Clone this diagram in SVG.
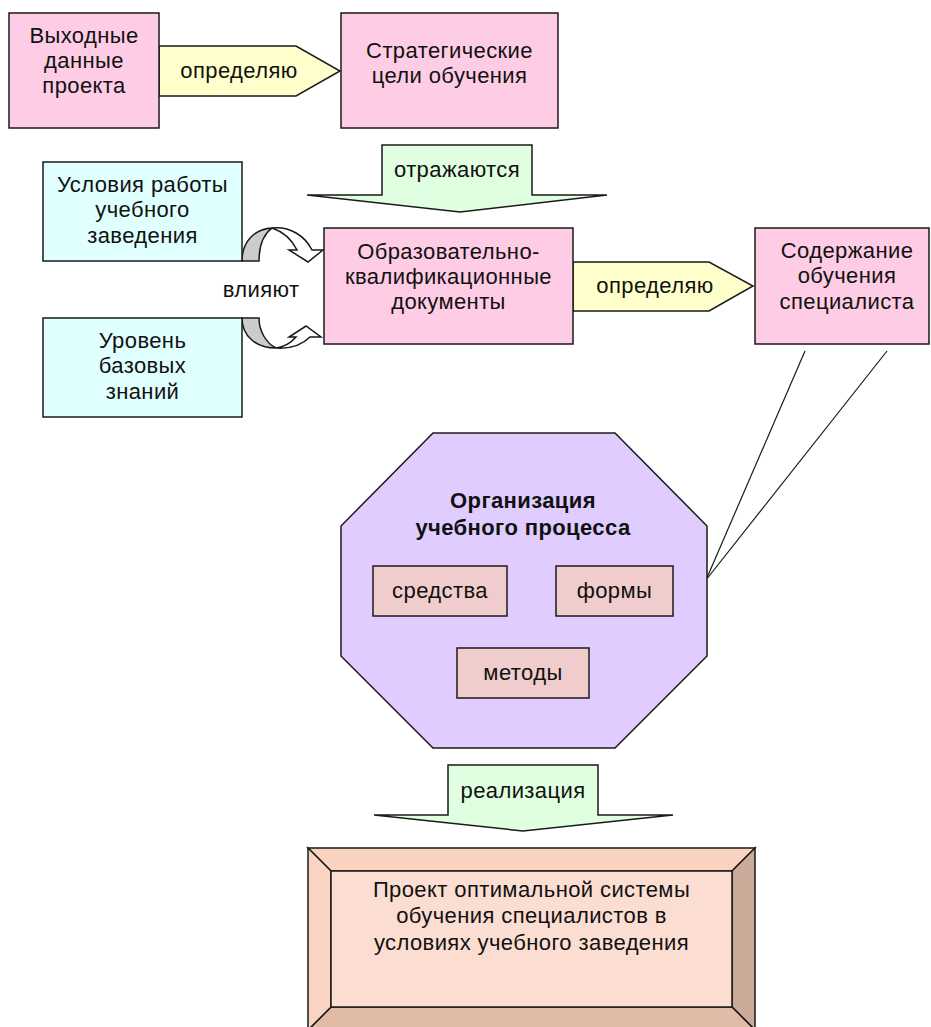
<svg xmlns="http://www.w3.org/2000/svg" width="931" height="1027" viewBox="0 0 931 1027">
<style>
.b{stroke:#1a1a1a;stroke-width:1.5;stroke-linejoin:miter}
.pink{fill:#FFCCE6}
.cyan{fill:#E0FFFF}
.yel{fill:#FFFFCC}
.grn{fill:#E0FFE0}
.t{font-family:"Liberation Sans",Arial,sans-serif;font-size:22px;letter-spacing:0.4px;fill:#111;text-anchor:middle}
.tb{font-weight:bold}
.ln{stroke:#1a1a1a;stroke-width:1.2;fill:none}
</style>
<rect width="931" height="1027" fill="#fff"/>

<g id="connectors">
  <g id="arrow-opredelyau-1">
    <polygon class="b yel" points="159,46 296,46 340,71 296,96 159,96"/>
    <text class="t" x="239" y="78">определяю</text>
  </g>
  <g id="arrow-otrazhayutsya">
    <polygon class="b grn" points="382,145 532,145 532,195 607,195 460,212 307,195 382,195"/>
    <text class="t" x="457" y="177">отражаются</text>
  </g>
  <g id="arrow-opredelyau-2">
    <polygon class="b yel" points="573,262 709,262 753,286 709,311 573,311"/>
    <text class="t" x="655" y="293">определяю</text>
  </g>
  <g id="curved-upper">
    <path class="b" fill="#fff" d="M272,228 C290,226 305,236 312,250 L323,250 L308,262 L289,250 L297,250 C292,240 284,232 272,228 Z"/>
    <path class="b" fill="#CCCCCC" d="M242,261 C242,242 254,229 272,228 C264,234 259,246 259,261 Z"/>
  </g>
  <g id="curved-lower">
    <path class="b" fill="#fff" d="M276,348 C291,349 303,344 310,337 L321,337 L306,326 L289,337 L296,337 C290,344 283,347 276,348 Z"/>
    <path class="b" fill="#CCCCCC" d="M242,318 C242,336 256,348 276,348 C266,343 259,331 259,318 Z"/>
  </g>
  <text class="t" x="261" y="297">влияют</text>
  <line class="ln" x1="805" y1="351" x2="706" y2="580"/>
  <line class="ln" x1="887" y1="351" x2="706" y2="580"/>
  <g id="arrow-realizaciya">
    <polygon class="b grn" points="448,765 598,765 598,815 673,815 523,831 374,815 448,815"/>
    <text class="t" x="523" y="798">реализация</text>
  </g>
</g>

<g id="node-vyhodnye">
  <rect class="b pink" x="9" y="13" width="150" height="115"/>
  <text class="t" x="84" y="43">Выходные</text>
  <text class="t" x="84" y="68">данные</text>
  <text class="t" x="84" y="93">проекта</text>
</g>

<g id="node-strategicheskie">
  <rect class="b pink" x="341" y="13" width="217" height="115"/>
  <text class="t" x="449.5" y="58">Стратегические</text>
  <text class="t" x="449.5" y="83">цели обучения</text>
</g>

<g id="node-usloviya">
  <rect class="b cyan" x="43" y="162" width="199" height="99"/>
  <text class="t" x="142.5" y="192">Условия работы</text>
  <text class="t" x="142.5" y="217">учебного</text>
  <text class="t" x="142.5" y="243">заведения</text>
</g>

<g id="node-uroven">
  <rect class="b cyan" x="43" y="318" width="199" height="99"/>
  <text class="t" x="142.5" y="348">Уровень</text>
  <text class="t" x="142.5" y="373">базовых</text>
  <text class="t" x="142.5" y="399">знаний</text>
</g>

<g id="node-dokumenty">
  <rect class="b pink" x="324" y="228" width="249" height="116"/>
  <text class="t" x="448.5" y="259">Образовательно-</text>
  <text class="t" x="448.5" y="284">квалификационные</text>
  <text class="t" x="448.5" y="309">документы</text>
</g>

<g id="node-soderzhanie">
  <rect class="b pink" x="755" y="228" width="174" height="116"/>
  <text class="t" x="847" y="258">Содержание</text>
  <text class="t" x="847" y="283">обучения</text>
  <text class="t" x="847" y="309">специалиста</text>
</g>

<g id="node-organizaciya">
  <polygon class="b" fill="#E0CCFF" points="433,433 615,433 707,526 707,656 615,748 433,748 341,656 341,526"/>
  <text class="t tb" x="523" y="508">Организация</text>
  <text class="t tb" x="523" y="535">учебного процесса</text>
</g>

<g id="node-sredstva">
  <rect class="b" fill="#F0CCCC" x="373" y="566" width="134" height="50"/>
  <text class="t" x="440" y="598">средства</text>
</g>

<g id="node-formy">
  <rect class="b" fill="#F0CCCC" x="556" y="566" width="117" height="50"/>
  <text class="t" x="614.5" y="598">формы</text>
</g>

<g id="node-metody">
  <rect class="b" fill="#F0CCCC" x="457" y="648" width="132" height="50"/>
  <text class="t" x="523" y="680">методы</text>
</g>

<g id="node-proekt">
  <polygon class="b" fill="#F9D2C0" points="308,848 755,848 732,871 331,871"/>
  <polygon class="b" fill="#CCAA9A" points="755,848 755,1030 732,1007 732,871"/>
  <polygon class="b" fill="#E0BBA8" points="331,1007 732,1007 755,1030 308,1030"/>
  <polygon class="b" fill="#FAD4C3" points="308,848 331,871 331,1007 308,1030"/>
  <rect class="b" fill="#FBDDD2" x="331" y="871" width="401" height="136"/>
  <text class="t" x="531.5" y="897">Проект оптимальной системы</text>
  <text class="t" x="531.5" y="923">обучения специалистов в</text>
  <text class="t" x="531.5" y="950">условиях учебного заведения</text>
</g>
</svg>
